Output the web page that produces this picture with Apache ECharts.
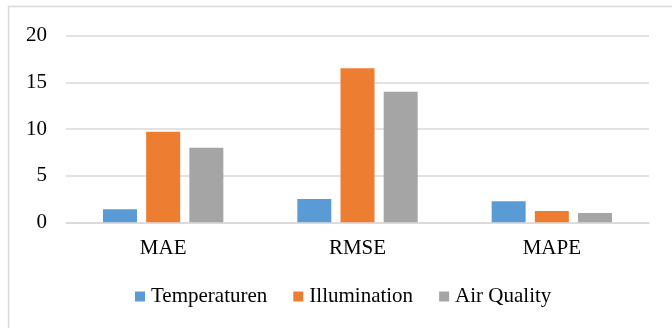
<!DOCTYPE html>
<html>
<head>
<meta charset="utf-8">
<script src="https://cdn.jsdelivr.net/npm/echarts@6/dist/echarts.min.js"></script>
<style>
  html, body { margin: 0; padding: 0; background: #ffffff; }
  #chart { width: 672px; height: 328px; }
</style>
</head>
<body>
<div id="chart"></div>
<script>
// Error metrics per sensor model
const categories = ['MAE', 'RMSE', 'MAPE'];
const temperaturen = [1.4, 2.5, 2.25];
const illumination = [9.7, 16.5, 1.2];
const airQuality = [8.0, 14.0, 1.0];
const yTicks = [0, 5, 10, 15, 20];

const FONT = '"Liberation Serif", "Times New Roman", serif';
const GRID_COLOR = '#d9d9d9';

const chart = echarts.init(document.getElementById('chart'), null, { renderer: 'canvas' });

function barSeries(name, data, color) {
  return {
    name: name,
    type: 'bar',
    data: data,
    barWidth: 34,
    barGap: '27%',
    itemStyle: { color: color },
    emphasis: { disabled: true }
  };
}

chart.setOption({
  animation: false,
  backgroundColor: '#ffffff',
  graphic: [
    {
      type: 'polyline',
      silent: true,
      shape: { points: [[8.5, 328], [8.5, 6.5], [672, 6.5]] },
      style: { stroke: GRID_COLOR, lineWidth: 1.5, fill: null }
    }
  ],
  grid: { left: 66, right: 23, top: 35.7, bottom: 105.7, containLabel: false },
  legend: {
    left: 135,
    top: 286,
    padding: 0,
    icon: 'rect',
    itemWidth: 10,
    itemHeight: 10,
    itemGap: 26,
    textStyle: { fontFamily: FONT, fontSize: 21, color: '#000000', padding: [0, 0, 0, 1] },
    data: ['Temperaturen', 'Illumination', 'Air Quality']
  },
  xAxis: {
    type: 'category',
    data: categories,
    axisLine: { show: true, lineStyle: { color: GRID_COLOR, width: 1.5 } },
    axisTick: { show: false },
    axisLabel: { fontFamily: FONT, fontSize: 21, color: '#000000', margin: 16 }
  },
  yAxis: {
    type: 'value',
    min: yTicks[0],
    max: yTicks[yTicks.length - 1],
    interval: yTicks[1] - yTicks[0],
    axisLine: { show: false },
    axisTick: { show: false },
    splitLine: { lineStyle: { color: GRID_COLOR, width: 1.5 } },
    axisLabel: { fontFamily: FONT, fontSize: 21, color: '#000000', margin: 19 }
  },
  series: [
    barSeries('Temperaturen', temperaturen, '#5B9BD5'),
    barSeries('Illumination', illumination, '#ED7D31'),
    barSeries('Air Quality', airQuality, '#A5A5A5')
  ]
});
</script>
</body>
</html>
